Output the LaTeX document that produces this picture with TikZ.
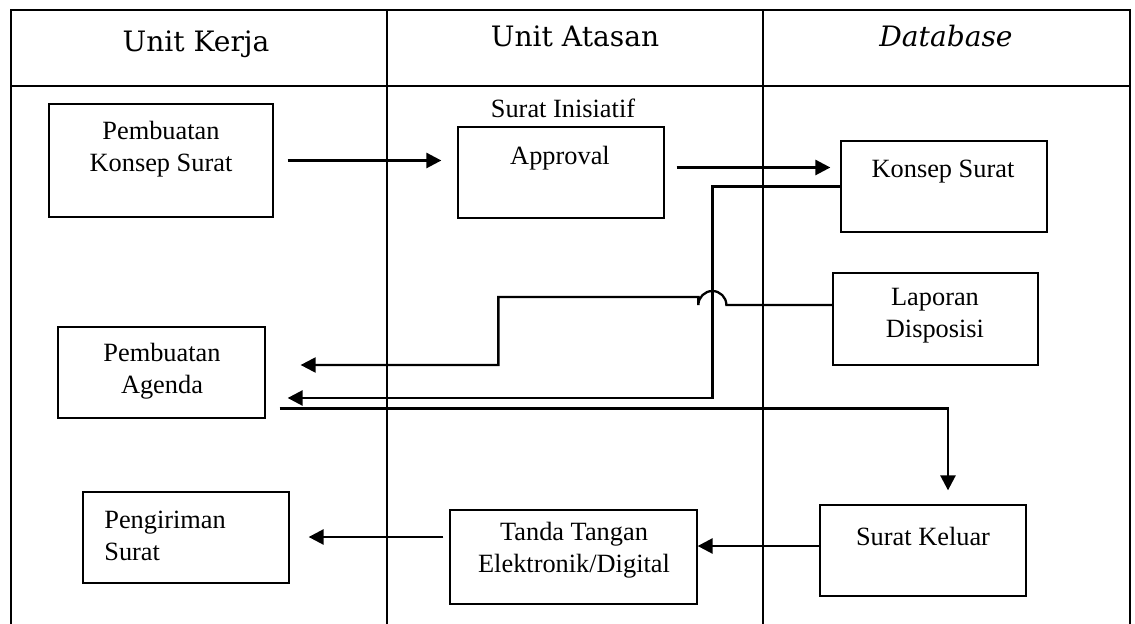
\documentclass[tikz,border=0pt]{standalone}
\usepackage{fontspec}
\setmainfont{Liberation Serif}
\newfontfamily\headfont{DejaVu Serif}
\usetikzlibrary{arrows.meta}

\begin{document}
\begin{tikzpicture}[x=0.02cm,y=-0.02cm,
        box/.style={draw, line width=0.75pt, inner sep=0pt},
        lbl/.style={font=\fontsize{15}{18.2}\selectfont, align=center, inner sep=0pt},
        head/.style={font=\headfont\fontsize{16}{19}\selectfont, inner sep=0pt},
        flow/.style={line width=1.5pt, -{Triangle[length=0.3cm,width=0.3cm]}}]
        \useasboundingbox (0,0) rectangle (1135,624);
        \draw[line width=0.6pt] (11,624) -- (11,10) -- (1130,10) -- (1130,624);
        \draw[line width=0.9pt] (11,86) -- (1130,86);
        \foreach \x in {387,763}
        {
            \draw[line width=0.6pt] (\x,10) -- (\x,624);
        }
        \node[head] (hkerja) at (196,44) {Unit Kerja};
        \node[head] (hatasan) at (575,36) {Unit Atasan};
        \node[head] (hdb) at (946,36) {\itshape Database};

        \node[box, minimum width=4.48cm, minimum height=2.26cm] (pks) at (161,160.5) {};
        \node[lbl] (pkst) at (161,149) {Pembuatan\\Konsep Surat};
        \node[lbl] (inisiatif) at (563,108) {Surat Inisiatif};
        \node[box, minimum width=4.12cm, minimum height=1.82cm] (appr) at (561,172.5) {};
        \node[lbl] (apprt) at (560,158) {Approval};
        \node[box, minimum width=4.12cm, minimum height=1.82cm] (ks) at (944,186.5) {};
        \node[lbl] (kst) at (943,172) {Konsep Surat};
        \node[box, minimum width=4.10cm, minimum height=1.84cm] (lap) at (935.5,319) {};
        \node[lbl] (lapt) at (935,316) {Laporan\\Disposisi};
        \node[box, minimum width=4.14cm, minimum height=1.82cm] (agd) at (161.5,372.5) {};
        \node[lbl] (agdt) at (162,371) {Pembuatan\\Agenda};
        \node[box, minimum width=4.12cm, minimum height=1.82cm] (krm) at (186,537.5) {};
        \node[lbl, align=left, anchor=west] (krmt) at (104,535.5) {Pengiriman\\Surat};
        \node[box, minimum width=4.94cm, minimum height=1.88cm] (ttd) at (573.5,557) {};
        \node[lbl] (ttdt) at (574,550) {Tanda Tangan\\Elektronik/Digital};
        \node[box, minimum width=4.12cm, minimum height=1.82cm] (sk) at (923,550.5) {};
        \node[lbl] (skt) at (923,536) {Surat Keluar};

        \draw[flow, shorten <=0.28cm, shorten >=0.32cm] (pks.east) -- (pks.east -| appr.west);
        \draw[flow, shorten <=0.24cm, shorten >=0.2cm] ([yshift=0.1cm]appr.east) -- ([yshift=0.1cm]appr.east -| ks.west);
        \draw[flow, shorten >=0.44cm] (ks.west) -- ++(-128,0) |- ([yshift=-0.51cm]agd.east);
        \draw[flow, line width=1.3pt, shorten >=0.7cm] ([yshift=0.28cm]lap.west) -- ++(-106,0)
            arc[start angle=0, end angle=180, radius=0.28cm] -- ++(0,-8) -- ++(-200,0) |- ([yshift=0.15cm]agd.east);
        \draw[flow, shorten >=0.28cm] ([shift={(14,-10)}]agd.south east) -| ([xshift=0.5cm]sk.north);
        \draw[flow] ([yshift=0.09cm]sk.west) -- ([yshift=0.09cm]sk.west -| ttd.east);
        \draw[flow, shorten <=0.12cm, shorten >=0.38cm] ([yshift=0.4cm]ttd.west) -- ([yshift=0.4cm]ttd.west -| krm.east);
    \end{tikzpicture}
\end{document}
